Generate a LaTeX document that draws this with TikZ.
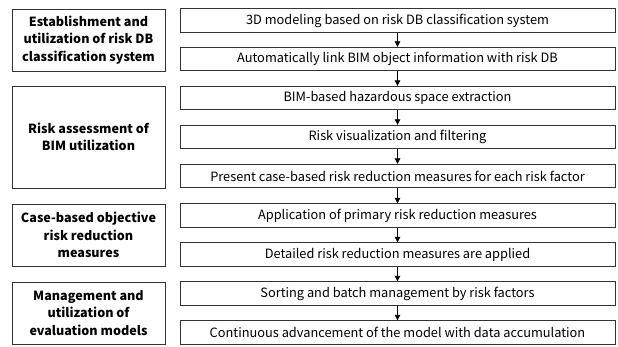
\documentclass[tikz,border=0pt]{standalone}
\usepackage{fontspec}
\setmainfont{Noto Sans CJK KR}
\usetikzlibrary{arrows.meta}
\begin{document}
\begin{tikzpicture}[x=1pt,y=-1pt,
  stepbox/.style={draw=black!80,line width=0.8pt,minimum width=435pt,minimum height=23.5pt,inner sep=0pt,font=\fontsize{12.8}{14}\selectfont,anchor=center},
  catbox/.style={draw=black!80,line width=0.8pt,minimum width=153pt,inner sep=0pt,align=center,font=\bfseries\fontsize{12.6}{17.5}\selectfont,anchor=center},
  arr/.style={-{Triangle[length=5.5pt,width=5.5pt]},line width=0.8pt,black}]
\useasboundingbox (0,0) rectangle (618,347);
\fill[white] (0,0) rectangle (618,347);
\node[stepbox] (s1) at (397.5,20.5) {3D modeling based on risk DB classification system};
\node[stepbox] (s2) at (397.5,59) {Automatically link BIM object information with risk DB};
\node[stepbox] (s3) at (397.5,98) {BIM-based hazardous space extraction};
\node[stepbox] (s4) at (397.5,137) {Risk visualization and filtering};
\node[stepbox] (s5) at (397.5,176) {Present case-based risk reduction measures for each risk factor};
\node[stepbox] (s6) at (397.5,215.5) {Application of primary risk reduction measures};
\node[stepbox] (s7) at (397.5,254.5) {Detailed risk reduction measures are applied};
\node[stepbox] (s8) at (397.5,293.5) {Sorting and batch management by risk factors};
\node[stepbox] (s9) at (397.5,332.5) {Continuous advancement of the model with data accumulation};
\foreach \a/\b in {s1/s2,s2/s3,s3/s4,s4/s5,s5/s6,s6/s7,s7/s8,s8/s9}
  \draw[arr] (\a.south) -- (\b.north);
\node[catbox,minimum height=62pt] (c1) at (88.5,40) {Establishment and\\utilization of risk DB\\classification system};
\node[catbox,minimum height=102pt] (c2) at (88.5,137) {Risk assessment of\\BIM utilization};
\node[catbox,minimum height=62pt] (c3) at (88.5,235) {Case-based objective\\risk reduction\\measures};
\node[catbox,minimum height=62pt] (c4) at (88.5,313) {Management and\\utilization of\\evaluation models};
\end{tikzpicture}
\end{document}
